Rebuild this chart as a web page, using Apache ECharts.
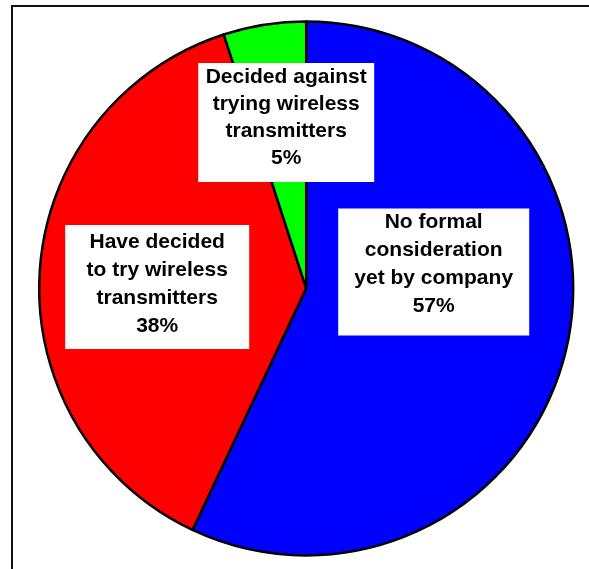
<!DOCTYPE html>
<html>
<head>
<meta charset="utf-8">
<script src="https://cdn.jsdelivr.net/npm/echarts@6/dist/echarts.min.js"></script>
<style>
html,body{margin:0;padding:0;background:#fff;}
#chart{width:589px;height:569px;}
</style>
</head>
<body>
<div id="chart"></div>
<script>
// Data
var categories = [
  "No formal\nconsideration\nyet by company",
  "Have decided\nto try wireless\ntransmitters",
  "Decided against\ntrying wireless\ntransmitters"
];
var values = [57, 38, 5];
var colors = ["#0000FF", "#FF0000", "#00FF00"];

// Label box placement (box top-centre offset from pie centre, px), box widths, line heights, paddings
var labelOffsets = [[127.5, -80], [-149, -63.5], [-20, -225.5]];
var boxWidths = [191, 184, 176];
var lineHeights = [28, 28, 27];
var boxPaddings = [[0, 0, 15, 0], [3, 0, 9, 0], [1, 0, 10, 0]];

var cx = 306.2, cy = 288.4;

var chart = echarts.init(document.getElementById('chart'), null, {renderer: 'canvas'});

var data = values.map(function (v, i) {
  return {
    name: categories[i],
    value: v,
    itemStyle: {color: colors[i]},
    label: {
      width: boxWidths[i],
      lineHeight: lineHeights[i],
      padding: boxPaddings[i]
    }
  };
});

chart.setOption({
  animation: false,
  backgroundColor: '#ffffff',
  graphic: [{
    type: 'rect',
    shape: {x: 12, y: 6, width: 620, height: 620},
    style: {fill: 'none', stroke: '#111', lineWidth: 2},
    silent: true
  }],
  series: [{
    type: 'pie',
    center: [cx, cy],
    radius: 267,
    startAngle: 90,
    clockwise: true,
    avoidLabelOverlap: false,
    emphasis: {disabled: true},
    itemStyle: {borderColor: '#000', borderWidth: 2.5},
    label: {
      show: true,
      position: 'inside',
      formatter: function (p) { return p.name + '\n' + p.value + '%'; },
      color: '#000',
      fontFamily: '"Liberation Sans", Arial, sans-serif',
      fontWeight: 'bold',
      fontSize: 21,
      lineHeight: 28,
      align: 'center',
      verticalAlign: 'top',
      backgroundColor: '#ffffff'
    },
    labelLine: {show: false},
    labelLayout: function (params) {
      var o = labelOffsets[params.dataIndex];
      return {x: cx + o[0], y: cy + o[1], align: 'center', verticalAlign: 'top'};
    },
    data: data
  }]
});
</script>
</body>
</html>
